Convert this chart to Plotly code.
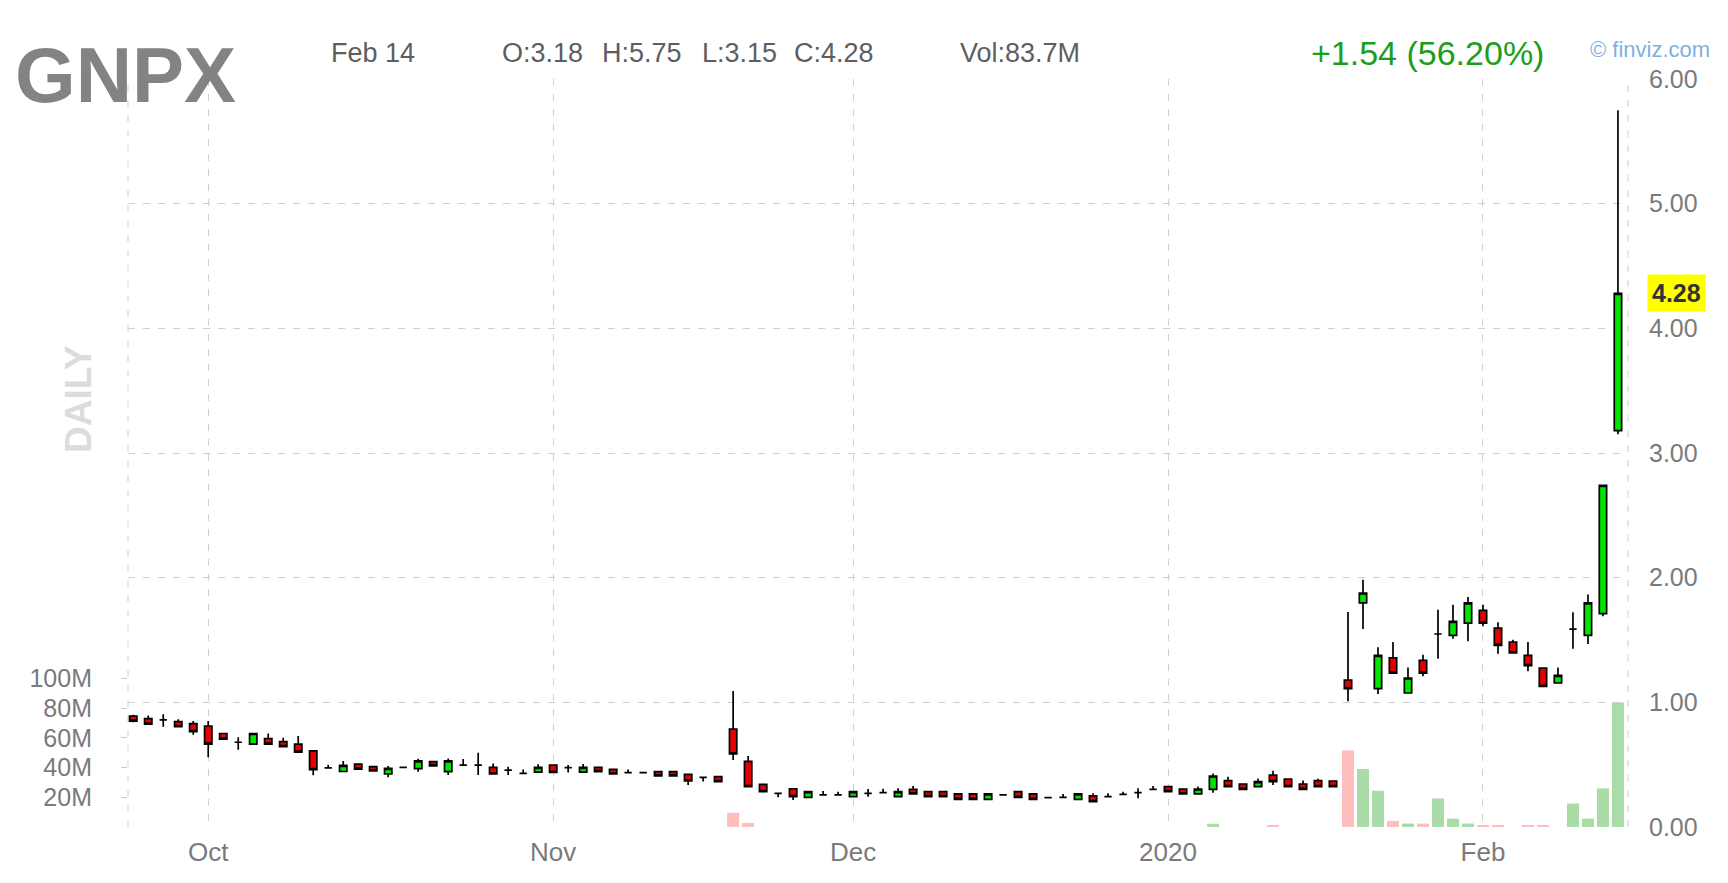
import plotly.graph_objects as go

# ---------------- data ----------------
ticker = "GNPX"
dates = [
    "2019-09-24", "2019-09-25", "2019-09-26", "2019-09-27", "2019-09-30",
    "2019-10-01", "2019-10-02", "2019-10-03", "2019-10-04", "2019-10-07",
    "2019-10-08", "2019-10-09", "2019-10-10", "2019-10-11", "2019-10-14",
    "2019-10-15", "2019-10-16", "2019-10-17", "2019-10-18", "2019-10-21",
    "2019-10-22", "2019-10-23", "2019-10-24", "2019-10-25", "2019-10-28",
    "2019-10-29", "2019-10-30", "2019-10-31", "2019-11-01", "2019-11-04",
    "2019-11-05", "2019-11-06", "2019-11-07", "2019-11-08", "2019-11-11",
    "2019-11-12", "2019-11-13", "2019-11-14", "2019-11-15", "2019-11-18",
    "2019-11-19", "2019-11-20", "2019-11-21", "2019-11-22", "2019-11-25",
    "2019-11-26", "2019-11-27", "2019-11-29", "2019-12-02", "2019-12-03",
    "2019-12-04", "2019-12-05", "2019-12-06", "2019-12-09", "2019-12-10",
    "2019-12-11", "2019-12-12", "2019-12-13", "2019-12-16", "2019-12-17",
    "2019-12-18", "2019-12-19", "2019-12-20", "2019-12-23", "2019-12-24",
    "2019-12-26", "2019-12-27", "2019-12-30", "2019-12-31", "2020-01-02",
    "2020-01-03", "2020-01-06", "2020-01-07", "2020-01-08", "2020-01-09",
    "2020-01-10", "2020-01-13", "2020-01-14", "2020-01-15", "2020-01-16",
    "2020-01-17", "2020-01-21", "2020-01-22", "2020-01-23", "2020-01-24",
    "2020-01-27", "2020-01-28", "2020-01-29", "2020-01-30", "2020-01-31",
    "2020-02-03", "2020-02-04", "2020-02-05", "2020-02-06", "2020-02-07",
    "2020-02-10", "2020-02-11", "2020-02-12", "2020-02-13", "2020-02-14",
]
opens = [
    0.890, 0.870, 0.860, 0.845, 0.830, 0.810, 0.750, 0.680, 0.665, 0.710,
    0.685, 0.665, 0.610, 0.475, 0.445, 0.505, 0.485, 0.425, 0.478, 0.468,
    0.524, 0.444, 0.497, 0.497, 0.478, 0.457, 0.430, 0.440, 0.497, 0.476,
    0.440, 0.478, 0.462, 0.436, 0.436, 0.444, 0.444, 0.422, 0.398, 0.404,
    0.786, 0.527, 0.342, 0.270, 0.307, 0.238, 0.257, 0.257, 0.243, 0.270,
    0.275, 0.243, 0.302, 0.283, 0.283, 0.265, 0.265, 0.222, 0.257, 0.283,
    0.265, 0.235, 0.238, 0.222, 0.249, 0.243, 0.262, 0.275, 0.302, 0.324,
    0.305, 0.265, 0.302, 0.372, 0.345, 0.324, 0.417, 0.385, 0.345, 0.372,
    0.369, 1.179, 1.797, 1.110, 1.356, 1.075, 1.337, 1.548, 1.537, 1.636,
    1.738, 1.596, 1.484, 1.377, 1.275, 1.155, 1.588, 1.537, 1.711, 3.180,
]
highs = [
    0.900, 0.895, 0.905, 0.865, 0.850, 0.850, 0.755, 0.720, 0.755, 0.750,
    0.715, 0.730, 0.610, 0.500, 0.530, 0.510, 0.490, 0.490, 0.482, 0.548,
    0.528, 0.550, 0.545, 0.596, 0.510, 0.484, 0.462, 0.503, 0.500, 0.497,
    0.505, 0.480, 0.465, 0.462, 0.438, 0.447, 0.447, 0.425, 0.400, 0.405,
    1.090, 0.570, 0.345, 0.272, 0.310, 0.286, 0.289, 0.283, 0.286, 0.305,
    0.307, 0.310, 0.329, 0.286, 0.286, 0.267, 0.267, 0.267, 0.260, 0.286,
    0.267, 0.238, 0.265, 0.267, 0.270, 0.270, 0.283, 0.310, 0.329, 0.330,
    0.308, 0.324, 0.430, 0.404, 0.348, 0.390, 0.452, 0.390, 0.372, 0.388,
    0.372, 1.725, 1.984, 1.441, 1.484, 1.280, 1.382, 1.743, 1.783, 1.845,
    1.783, 1.642, 1.503, 1.484, 1.275, 1.280, 1.722, 1.864, 2.740, 5.750,
]
lows = [
    0.840, 0.820, 0.805, 0.800, 0.740, 0.560, 0.700, 0.620, 0.660, 0.665,
    0.640, 0.600, 0.415, 0.470, 0.440, 0.460, 0.445, 0.400, 0.474, 0.444,
    0.488, 0.417, 0.490, 0.417, 0.425, 0.417, 0.425, 0.440, 0.435, 0.438,
    0.440, 0.440, 0.420, 0.433, 0.433, 0.407, 0.407, 0.337, 0.364, 0.362,
    0.537, 0.320, 0.280, 0.238, 0.217, 0.235, 0.254, 0.254, 0.240, 0.243,
    0.270, 0.240, 0.262, 0.240, 0.240, 0.220, 0.220, 0.220, 0.254, 0.236,
    0.220, 0.232, 0.235, 0.220, 0.200, 0.240, 0.259, 0.230, 0.299, 0.280,
    0.262, 0.262, 0.275, 0.320, 0.300, 0.320, 0.337, 0.320, 0.300, 0.320,
    0.320, 1.008, 1.588, 1.067, 1.235, 1.075, 1.209, 1.350, 1.511, 1.489,
    1.610, 1.390, 1.396, 1.249, 1.128, 1.155, 1.430, 1.468, 1.690, 3.150,
]
closes = [
    0.850, 0.825, 0.860, 0.805, 0.765, 0.665, 0.705, 0.680, 0.750, 0.665,
    0.645, 0.600, 0.460, 0.475, 0.495, 0.465, 0.450, 0.470, 0.478, 0.530,
    0.490, 0.530, 0.497, 0.497, 0.425, 0.457, 0.430, 0.478, 0.438, 0.476,
    0.478, 0.444, 0.425, 0.436, 0.436, 0.410, 0.410, 0.370, 0.398, 0.364,
    0.586, 0.324, 0.283, 0.270, 0.243, 0.283, 0.257, 0.257, 0.283, 0.270,
    0.275, 0.283, 0.265, 0.243, 0.243, 0.222, 0.222, 0.265, 0.257, 0.238,
    0.222, 0.235, 0.238, 0.265, 0.203, 0.243, 0.262, 0.275, 0.302, 0.283,
    0.265, 0.305, 0.409, 0.324, 0.302, 0.364, 0.364, 0.324, 0.302, 0.324,
    0.324, 1.110, 1.877, 1.377, 1.235, 1.195, 1.235, 1.548, 1.650, 1.797,
    1.636, 1.457, 1.396, 1.294, 1.128, 1.217, 1.588, 1.797, 2.740, 4.280,
]
# volume in millions; 0 where no bar is visible in the reference
volumes_m = [
    0, 0, 0, 0, 0, 0, 0, 0, 0, 0,
    0, 0, 0, 0, 0, 0, 0, 0, 0, 0,
    0, 0, 0, 0, 0, 0, 0, 0, 0, 0,
    0, 0, 0, 0, 0, 0, 0, 0, 0, 0,
    9.5, 2.7, 0, 0, 0, 0, 0, 0, 0, 0,
    0, 0, 0, 0, 0, 0, 0, 0, 0, 0,
    0, 0, 0, 0, 0, 0, 0, 0, 0, 0,
    0, 0, 2.2, 0, 0, 0, 1.1, 0, 0, 0,
    0, 51.5, 39.0, 24.4, 4.1, 2.3, 2.3, 19.2, 5.6, 2.3,
    0.7, 0.7, 0, 0.7, 0.7, 0, 15.8, 5.6, 26.0, 83.7,
]
month_ticks = ["2019-10-01", "2019-11-01", "2019-12-02", "2020-01-02", "2020-02-03"]
month_labels = ["Oct", "Nov", "Dec", "2020", "Feb"]
price_ticks = [0, 1, 2, 3, 4, 5, 6]
volume_ticks_m = [20, 40, 60, 80, 100]
header_date = "Feb 14"

# ---------------- styling ----------------
# page body has an 8px margin, so the figure is offset by 8px on the page
OFF = 8
W, H = 1728 - 2 * OFF, 883 - 2 * OFF
PLOT_X0, PLOT_X1, PLOT_Y0, PLOT_Y1 = 128, 1628, 79, 827  # page coordinates
L, T = PLOT_X0 - OFF, PLOT_Y0 - OFF
PW, PH = PLOT_X1 - PLOT_X0, PLOT_Y1 - PLOT_Y0
R, B = W - L - PW, H - T - PH
FONT = "Arial, Liberation Sans, sans-serif"
GRID = "#d0d0d0"
DASH = "7px,8px"
GRAY = "#7a7a7a"
UP_FILL, DN_FILL = "#00e600", "#e60000"
UP_VOL, DN_VOL = "#a9dca6", "#ffbebe"


def px_x(px):
    return (px - PLOT_X0) / PW


def px_y(py):
    return (PLOT_Y1 - py) / PH


vol_colors = [UP_VOL if c >= o else DN_VOL for o, c in zip(opens, closes)]

fig = go.Figure()
fig.add_trace(go.Bar(
    x=dates, y=[v * 1e6 for v in volumes_m], marker=dict(color=vol_colors, line=dict(width=0)),
    yaxis="y", hoverinfo="skip", showlegend=False,
))
fig.add_trace(go.Candlestick(
    x=dates, open=opens, high=highs, low=lows, close=closes, yaxis="y2",
    increasing=dict(fillcolor=UP_FILL, line=dict(color="black", width=1.7)),
    decreasing=dict(fillcolor=DN_FILL, line=dict(color="black", width=1.7)),
    whiskerwidth=0, showlegend=False,
))

fig.update_layout(
    template="none",
    width=W, height=H,
    margin=dict(l=L, r=R, t=T, b=B, autoexpand=False),
    paper_bgcolor="white", plot_bgcolor="white",
    font=dict(family=FONT, color=GRAY),
    bargap=0.2, boxgap=0.3,
    xaxis=dict(
        type="category", range=[-0.35, len(dates) - 0.33], automargin=False,
        tickvals=month_ticks, ticktext=month_labels,
        showgrid=True, gridcolor=GRID, griddash=DASH, gridwidth=1,
        zeroline=False, showline=False, ticks="",
        tickfont=dict(size=26, color=GRAY), ticklabelstandoff=7,
        rangeslider=dict(visible=False), fixedrange=True,
    ),
    yaxis=dict(
        range=[0, 503e6], side="left", automargin=False,
        tickvals=[v * 1e6 for v in volume_ticks_m],
        ticktext=[f"{v}M" for v in volume_ticks_m],
        showgrid=False, zeroline=False, showline=False,
        ticks="outside", ticklen=6, tickcolor="#cccccc",
        tickfont=dict(size=25, color=GRAY), ticklabelstandoff=24,
        fixedrange=True,
    ),
    yaxis2=dict(
        range=[0, 6], overlaying="y", side="right", automargin=False,
        tickvals=price_ticks, ticktext=[f"{p:.2f}" for p in price_ticks],
        showgrid=True, gridcolor=GRID, griddash=DASH, gridwidth=1,
        zeroline=False, showline=False, ticks="",
        tickfont=dict(size=25, color=GRAY), ticklabelstandoff=20,
        fixedrange=True,
    ),
)

# dashed plot-area borders (left/right)
for xp in (0, 1):
    fig.add_shape(type="line", xref="paper", yref="paper", x0=xp, x1=xp, y0=0, y1=1,
                  line=dict(color=GRID, width=1, dash=DASH), layer="below")

last_o, last_h, last_l, last_c = opens[-1], highs[-1], lows[-1], closes[-1]
change = last_c - closes[-2]
pct = change / closes[-2] * 100

ann = []


def add_text(text, px, py, size, color, bold=False, anchor="left", **kw):
    if bold:
        text = f"<b>{text}</b>"
    ann.append(dict(text=text, x=px_x(px), y=px_y(py), xref="paper", yref="paper",
                    xanchor=anchor, yanchor="middle", showarrow=False,
                    font=dict(size=size, color=color, family=FONT), **kw))


HDR = "#5e5e5e"
add_text(ticker, 13, 75, 78, "#838383", bold=True)
add_text(header_date, 329, 53, 27, HDR)
add_text(f"O:{last_o:.2f}", 500, 53, 27, HDR)
add_text(f"H:{last_h:.2f}", 600, 53, 27, HDR)
add_text(f"L:{last_l:.2f}", 700, 53, 27, HDR)
add_text(f"C:{last_c:.2f}", 792, 53, 27, HDR)
add_text(f"Vol:{volumes_m[-1]:.1f}M", 958, 53, 27, HDR)
add_text(f"{change:+.2f} ({pct:.2f}%)", 1309, 53, 34, "#1c9e1c")
add_text("© finviz.com", 1588, 50, 22, "#7fb0e0")
add_text("DAILY", 78, 399, 37, "#dcdcdc", bold=True, anchor="center", textangle=-90)

# last price marker on the price axis
ann.append(dict(text=f"<b>{last_c:.2f}</b>", x=px_x(1647), y=last_c, xref="paper", yref="y2",
                xanchor="left", yanchor="middle", showarrow=False, bgcolor="#ffff00",
                borderpad=4, font=dict(size=25, color="#333333", family=FONT)))

fig.update_layout(annotations=ann)

fig.write_html("out.html", config={"displayModeBar": False})
